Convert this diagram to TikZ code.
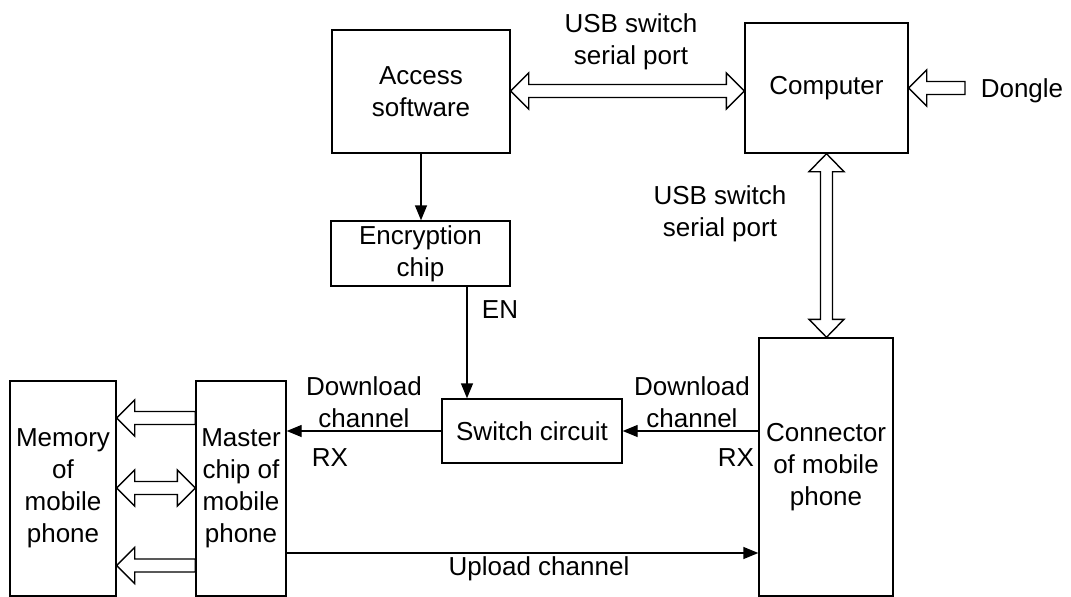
\documentclass[tikz,border=0pt]{standalone}
\usepackage{fontspec}
\setmainfont{Liberation Sans}
\usetikzlibrary{calc,arrows.meta}
\newcommand\hdarrow[2]{\draw[fat] let \p1=(#1), \p2=(#2) in
  (\x1,\y1) -- (\x1+18pt,\y1+18pt) -- (\x1+18pt,\y1+6.5pt) -- (\x2-18pt,\y1+6.5pt) -- (\x2-18pt,\y1+18pt) -- (\x2,\y1) -- (\x2-18pt,\y1-18pt) -- (\x2-18pt,\y1-6.5pt) -- (\x1+18pt,\y1-6.5pt) -- (\x1+18pt,\y1-18pt) -- cycle;}
\newcommand\hlarrow[2]{\draw[fat] let \p1=(#1), \p2=(#2) in
  (\x1,\y1) -- (\x1+18pt,\y1+18pt) -- (\x1+18pt,\y1+6.5pt) -- (\x2,\y1+6.5pt) -- (\x2,\y1-6.5pt) -- (\x1+18pt,\y1-6.5pt) -- (\x1+18pt,\y1-18pt) -- cycle;}
\newcommand\vdarrow[2]{\draw[fat] let \p1=(#1), \p2=(#2) in
  (\x1,\y1) -- (\x1+17.5pt,\y1-18pt) -- (\x1+6pt,\y1-18pt) -- (\x1+6pt,\y2+18pt) -- (\x1+17.5pt,\y2+18pt) -- (\x1,\y2) -- (\x1-17.5pt,\y2+18pt) -- (\x1-6pt,\y2+18pt) -- (\x1-6pt,\y1-18pt) -- (\x1-17.5pt,\y1-18pt) -- cycle;}
\begin{document}
\begin{tikzpicture}[x=1pt,y=-1pt,
  every node/.style={font=\fontsize{26}{32}\selectfont},
  box/.style={draw,line width=1.4pt,inner sep=0pt,align=center},
  lbl/.style={inner sep=0pt,align=center},
  arr/.style={line width=1.4pt,-{Triangle[length=15pt,width=12pt]}},
  fat/.style={line width=1.4pt,line join=miter,fill=white}]
\useasboundingbox (0,0) rectangle (1071,597);
\node[box,minimum width=178pt,minimum height=123pt] (acc) at (421,91.5) {Access\\software};
\node[box,minimum width=163pt,minimum height=130pt] (comp) at (826.5,88) {Computer};
\node[box,minimum width=179pt,minimum height=65pt] (enc) at (420.5,253.5) {Encryption\\chip};
\node[box,minimum width=180pt,minimum height=64pt] (sw) at (532,431) {Switch circuit};
\node[box,minimum width=134pt,minimum height=258pt] (conn) at (826,467) {Connector\\of mobile\\phone};
\node[box,minimum width=106pt,minimum height=215pt] (mem) at (63,488.5) {Memory\\of\\mobile\\phone};
\node[box,minimum width=90pt,minimum height=215pt] (mas) at (241,488.5) {Master\\chip of\\mobile\\phone};
\node[lbl] (usb1) at (631,41.5) {USB switch\\serial port};
\node[lbl] (usb2) at (720,213.5) {USB switch\\serial port};
\node[lbl] (dongle) at (1022,91) {Dongle};
\node[lbl] (dl1) at (364,402) {Download\\channel};
\node[lbl] (rx1) at (330,458) {RX};
\node[lbl] (dl2) at (692,402) {Download\\channel};
\node[lbl] (rx2) at (736,458) {RX};
\node[lbl] (en) at (500,310) {EN};
\node[lbl] (up) at (539,568.5) {Upload channel};
\coordinate (dtail) at (965,88);
\coordinate (entop) at ($(enc.south)+(46.5,0)$);
% thin arrows
\draw[arr] (acc.south) -- (acc.south |- enc.north);
\draw[arr] (entop) -- (entop |- sw.north);
\draw[arr] (conn.west |- sw.east) -- (sw.east);
\draw[arr] (sw.west) -- (sw.west -| mas.east);
\draw[arr] (mas.east |- 0,553) -- (conn.west |- 0,553);
% fat arrows
\hdarrow{acc.east |- 0,91}{comp.west |- 0,91}
\hlarrow{comp.east |- dtail}{dtail}
\vdarrow{comp.south}{conn.north}
\hlarrow{mem.east |- 0,418}{mas.west |- 0,418}
\hdarrow{mem.east |- 0,488}{mas.west |- 0,488}
\hlarrow{mem.east |- 0,565.5}{mas.west |- 0,565.5}
\end{tikzpicture}
\end{document}
